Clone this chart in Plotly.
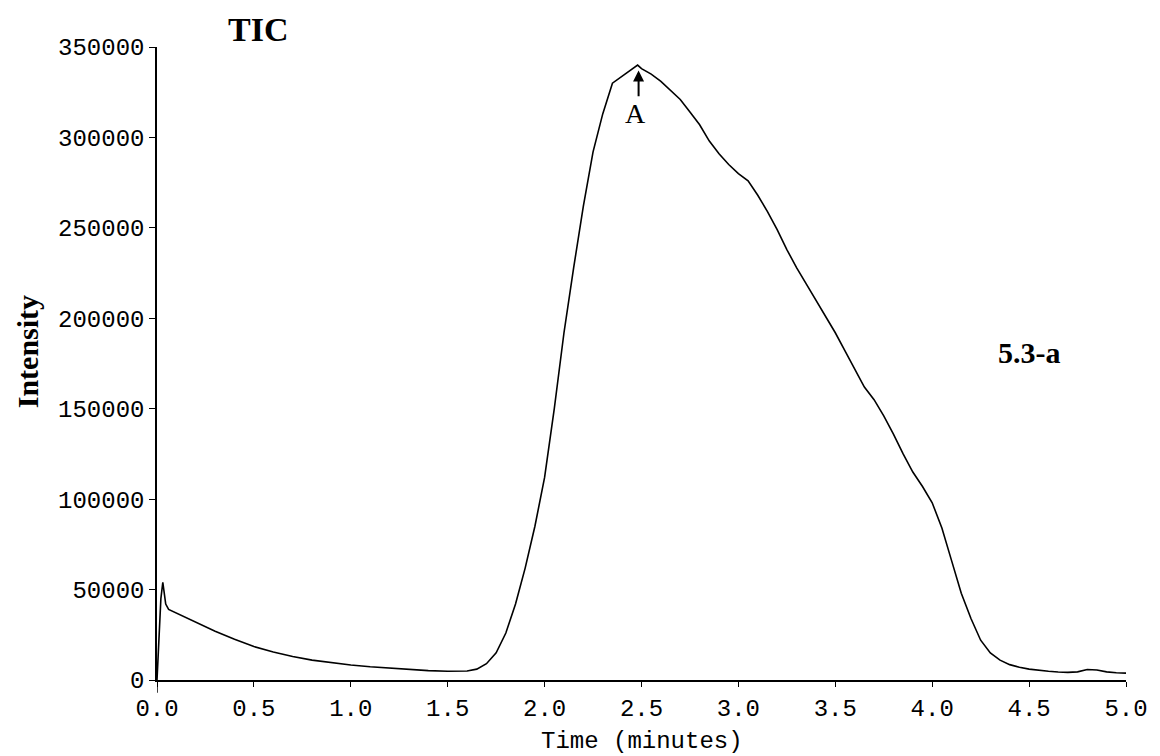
import plotly.graph_objects as go

# Total ion chromatogram: retention time (minutes) vs. intensity
time_min = [0.00, 0.01, 0.02, 0.03, 0.045, 0.06, 0.10, 0.15, 0.20, 0.25, 0.30, 0.40,
            0.50, 0.60, 0.70, 0.80, 0.90, 1.00, 1.10, 1.20, 1.30, 1.40, 1.50, 1.60,
            1.65, 1.70, 1.75, 1.80, 1.85, 1.90, 1.95, 2.00, 2.05, 2.10, 2.15, 2.20,
            2.25, 2.27, 2.30, 2.35, 2.40, 2.45, 2.48, 2.50, 2.55, 2.60, 2.65, 2.70,
            2.75, 2.80, 2.85, 2.90, 2.95, 3.00, 3.05, 3.10, 3.15, 3.20, 3.25, 3.30,
            3.35, 3.40, 3.45, 3.50, 3.55, 3.60, 3.65, 3.70, 3.75, 3.80, 3.85, 3.90,
            3.95, 4.00, 4.05, 4.10, 4.15, 4.20, 4.25, 4.30, 4.35, 4.40, 4.45, 4.50,
            4.55, 4.60, 4.65, 4.70, 4.75, 4.80, 4.85, 4.90, 4.95, 5.00]

intensity = [0, 20000, 45000, 54000, 42000, 39000, 37000, 34500, 32000, 29500, 27000, 22500,
             18500, 15500, 13000, 11000, 9500, 8300, 7300, 6500, 5800, 5200, 4800, 5000,
             6000, 9000, 15000, 26000, 42000, 62000, 85000, 112000, 150000, 192000, 228000, 262000,
             292000, 300000, 313000, 330000, 334000, 338000, 340000, 338000, 335000, 331000, 326000, 321000,
             314000, 307000, 298000, 291000, 285000, 280000, 276000, 268000, 259000, 249000, 238000, 228000,
             219000, 210000, 201000, 192000, 182000, 172000, 162000, 155000, 146000, 136000, 125000, 115000,
             107000, 98000, 84000, 66000, 48000, 34000, 22000, 15000, 11000, 8500, 7000, 6000,
             5300, 4800, 4400, 4200, 4500, 5800, 5500, 4500, 4000, 3800]

x_ticks = [0.0, 0.5, 1.0, 1.5, 2.0, 2.5, 3.0, 3.5, 4.0, 4.5, 5.0]
y_ticks = [0, 50000, 100000, 150000, 200000, 250000, 300000, 350000]

mono = "Liberation Mono, Courier New, monospace"
serif = "Liberation Serif, Times New Roman, serif"

fig = go.Figure()
fig.add_trace(go.Scatter(
    x=time_min, y=intensity, mode="lines",
    line=dict(color="black", width=1.6),
    showlegend=False, hoverinfo="skip",
))

fig.update_layout(
    width=1160, height=756,
    margin=dict(l=157, r=27, t=47, b=76),
    paper_bgcolor="white", plot_bgcolor="white",
    font=dict(family=mono, color="black", size=24),
)

fig.update_xaxes(
    range=[0, 5], tickvals=x_ticks, ticktext=[f"{v:.1f}" for v in x_ticks],
    showline=True, linecolor="black", linewidth=1.5,
    ticks="outside", ticklen=5, tickcolor="black", tickwidth=1.2,
    showgrid=False, zeroline=False,
    tickfont=dict(family=mono, size=24),
)
fig.update_yaxes(
    range=[0, 350000], tickvals=y_ticks, ticktext=[str(v) for v in y_ticks],
    showline=True, linecolor="black", linewidth=1.5,
    ticks="outside", ticklen=6, tickcolor="black", tickwidth=1.2,
    showgrid=False, zeroline=False,
    tickfont=dict(family=mono, size=24),
)

# y axis line continues a little below the time axis
fig.add_shape(type="line", xref="x", yref="paper", x0=0, x1=0, y0=0, y1=-0.02,
              line=dict(color="black", width=1.5))

fig.add_annotation(text="Time (minutes)", xref="paper", yref="paper",
                   x=0.5, y=-0.097, showarrow=False,
                   xanchor="center", yanchor="middle",
                   font=dict(family=mono, size=24))
fig.add_annotation(text="<b>Intensity</b>", xref="paper", yref="paper",
                   x=-0.134, y=0.518, textangle=-90, showarrow=False,
                   xanchor="center", yanchor="middle",
                   font=dict(family=serif, size=30))
fig.add_annotation(text="<b>TIC</b>", xref="paper", yref="paper",
                   x=0.104, y=1.027, showarrow=False,
                   xanchor="center", yanchor="middle",
                   font=dict(family=serif, size=34))
fig.add_annotation(text="<b>5.3-a</b>", xref="x", yref="y",
                   x=4.50, y=181000, showarrow=False,
                   xanchor="center", yanchor="middle",
                   font=dict(family=serif, size=30))
fig.add_annotation(text="A", xref="x", yref="y",
                   x=2.47, y=313000, showarrow=False,
                   xanchor="center", yanchor="middle",
                   font=dict(family=serif, size=28))
# arrow pointing at the peak apex
fig.add_annotation(text="", xref="x", yref="y", axref="x", ayref="y",
                   x=2.485, y=337000, ax=2.485, ay=322000,
                   showarrow=True, arrowhead=2, arrowsize=1.1, arrowwidth=2,
                   arrowcolor="black")

fig.write_html("out.html")
